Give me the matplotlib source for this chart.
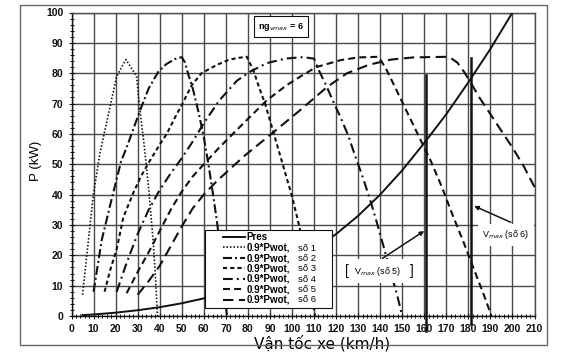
import matplotlib
matplotlib.use("Agg")
import matplotlib.pyplot as plt
from matplotlib.patches import Rectangle
from matplotlib.ticker import MultipleLocator

plt.rcParams["font.family"] = ["Liberation Sans", "DejaVu Sans"]
plt.rcParams["lines.scale_dashes"] = False

# Pres (luc can) - kW theo km/h
v_res = [5, 10, 20, 30, 40, 50, 60, 70, 80, 90, 100, 110, 120, 130, 140, 150, 160, 170, 180, 190, 200]
p_res = [0.3, 0.5, 1.1, 1.9, 2.9, 4.2, 5.8, 7.8, 10.3, 13.4, 17.2, 21.8, 27, 33, 40, 48, 57, 66.5, 77, 88, 100]

# 0.9*Pwot cho tung so
v1 = [5, 10, 13, 16, 20.5, 24.7, 29.5, 31, 33, 35, 37, 38, 39]
p1 = [7, 40.5, 54, 64, 79, 84.5, 79, 68, 56, 42, 25, 14, 0]

v2 = [10, 13.7, 18.2, 22.5, 25, 28, 31, 35, 39.4, 43, 47, 50, 51.5, 53, 55, 57.5, 60, 62, 64, 66, 68, 70.5]
p2 = [8, 25, 38.5, 51, 55.5, 61.5, 67.5, 75, 80.5, 83, 84.7, 85.3, 83.5, 79.5, 75, 67.5, 59, 50.5, 41, 31, 19, 0]

v3 = [15, 17.5, 20.5, 23.5, 28, 31.5, 35, 40, 43.2, 47, 50, 54.5, 59, 65.8, 71, 75, 79.5,
      82.5, 85, 88, 91, 94, 97, 100, 103, 106, 110.5]
p3 = [8, 15, 22, 32.5, 40.5, 46, 50.5, 56.5, 60, 65.5, 69.5, 76, 80, 82.7, 84.3, 85, 85.4,
      81, 75.5, 69.5, 62, 54.5, 47, 39.5, 30.5, 21, 0]

v4 = [20.5, 25, 30, 35, 40, 45, 50, 55, 60, 67, 75, 81, 88.5, 97, 105, 110,
      112.5, 115.5, 118.5, 122, 125.5, 129, 132, 136, 139, 141.5, 144.5, 147.5, 150]
p4 = [8, 17.5, 27, 35, 41.5, 47, 52, 57.5, 63.5, 71, 77.5, 80.5, 83.3, 84.8, 85.3, 84.8,
      80.5, 76, 71, 65.5, 59.5, 52, 46, 37, 29.5, 23, 15, 7.5, 0]

v5 = [25, 30, 35, 40, 45, 50, 55, 60, 67, 78, 88.5, 97.5, 104, 111, 122, 130, 139,
      140.5, 143, 148, 153, 158, 163, 168, 173, 178, 183, 187, 190.5]
p5 = [7.5, 14.5, 21, 28, 35, 41, 46, 50, 55.5, 63.5, 71, 76, 79, 82, 84.3, 85.2, 85.4,
      84, 81, 73.5, 66, 58.5, 51, 42.5, 33, 24, 14.5, 7, 0]

v6 = [30, 35, 40, 45, 50, 55, 60, 66, 78, 91.5, 104, 116, 125, 135, 145, 155, 170,
      172, 175, 178, 181, 185, 190, 195, 200, 205, 210]
p6 = [7, 11.5, 16.5, 23, 29.5, 35.5, 40, 44.5, 52.5, 60.5, 68, 75.5, 80, 82.8, 84.5, 85.2, 85.4,
      85, 83.5, 80.5, 77, 72, 66.5, 61, 55.5, 49.5, 42.5]

gears = ["số 1", "số 2", "số 3", "số 4", "số 5", "số 6"]
v_max5 = 161
v_max6 = 181

fig = plt.figure(figsize=(5.64, 3.56), dpi=100, facecolor="white")
ax = fig.add_axes([71.5 / 564, 40 / 356, 463 / 564, 303.5 / 356])

# khung ngoai cua bieu do
fig.patches.append(Rectangle((20 / 564, 11 / 356), 527 / 564, 340 / 356, transform=fig.transFigure,
                             fill=False, edgecolor="#666666", linewidth=1.0))

ink = "#111111"
ax.plot(v_res, p_res, color=ink, lw=1.4, ls="-", label="Pres", zorder=3)
ax.plot(v1, p1, color=ink, lw=1.2, ls=(0, (1.1, 1.4)), label="0.9*Pwot,", zorder=3)
ax.plot(v2, p2, color=ink, lw=1.5, ls=(0, (6.5, 2.2, 1.4, 2.2)), label="0.9*Pwot,", zorder=3)
ax.plot(v3, p3, color=ink, lw=1.5, ls=(0, (3, 2.2)), label="0.9*Pwot,", zorder=3)
ax.plot(v4, p4, color=ink, lw=1.5, ls=(0, (7, 3, 1.4, 3)), label="0.9*Pwot,", zorder=3)
ax.plot(v5, p5, color=ink, lw=1.5, ls=(0, (5, 3)), label="0.9*Pwot,", zorder=3)
ax.plot(v6, p6, color=ink, lw=1.5, ls=(0, (7.5, 4)), label="0.9*Pwot,", zorder=3)

ax.plot([v_max5, v_max5], [-5, 79.5], color=ink, lw=1.8, clip_on=False, zorder=4)
ax.plot([v_max6, v_max6], [-2.5, 85], color=ink, lw=1.8, clip_on=False, zorder=4)

ax.set_xlim(0, 210)
ax.set_ylim(0, 100)
ax.xaxis.set_major_locator(MultipleLocator(10))
ax.xaxis.set_minor_locator(MultipleLocator(2))
ax.yaxis.set_major_locator(MultipleLocator(10))
ax.yaxis.set_minor_locator(MultipleLocator(2))
ax.grid(True, which="major", color="#4a4a4a", lw=1.0)
ax.set_axisbelow(True)
for s in ax.spines.values():
    s.set_color("#4a4a4a")
    s.set_linewidth(1.0)
ax.spines["bottom"].set_color(ink)
ax.spines["left"].set_color(ink)
ax.tick_params(which="major", direction="inout", length=4, width=0.8, pad=4,
               labelsize=7.5, colors=ink)
ax.tick_params(which="minor", direction="inout", length=3, width=0.7, colors=ink)
for t in ax.get_xticklabels() + ax.get_yticklabels():
    t.set_fontweight("bold")

ax.set_ylabel("P (kW)", fontsize=9.5, va="center")
ax.yaxis.set_label_coords(-0.077, 0.51)
ax.set_xlabel("Vận tốc xe (km/h)", fontsize=11, family="DejaVu Sans", va="center",
              bbox=dict(facecolor="white", edgecolor="none", pad=2))
ax.xaxis.set_label_coords(0.541, -0.089)

# legend
ax.add_patch(Rectangle((0.288, 0.025), 0.274, 0.258, transform=ax.transAxes,
                       facecolor="white", edgecolor=ink, lw=0.8, zorder=5))
leg = ax.legend(loc="upper left", bbox_to_anchor=(0.322, 0.283), frameon=False,
                prop=dict(size=7, weight="bold"), handlelength=2.3, handletextpad=0.2,
                labelspacing=0.05, borderaxespad=0, borderpad=0.2)
leg.set_zorder(6)
for i, g in enumerate(gears):
    ax.text(0.489, 0.223 - i * 0.034, g, transform=ax.transAxes, fontsize=6.8,
            va="center", ha="left", zorder=7)

# chu thich
ax.text(95, 95.3, "ng$_{vmax}$ = 6", fontsize=6.5, fontweight="bold", ha="center", va="center",
        bbox=dict(boxstyle="square,pad=0.5", facecolor="white", edgecolor=ink, lw=0.8), zorder=6)

ax.annotate("", xy=(v_max5, 28.5), xytext=(140, 18.5),
            arrowprops=dict(arrowstyle="-|>", color=ink, lw=1.1, mutation_scale=6), zorder=6)
ax.text(139, 14.8, "V$_{max}$ (số 5)", fontsize=6.5, ha="center", va="center", zorder=6,
        bbox=dict(facecolor="white", edgecolor="none", pad=4))
ax.text(125, 14.8, "[", fontsize=10, ha="center", va="center", zorder=7, fontweight="light")
ax.text(154.3, 14.8, "]", fontsize=10, ha="center", va="center", zorder=7, fontweight="light")

ax.annotate("", xy=(v_max6 + 0.5, 36.6), xytext=(200.4, 30.5),
            arrowprops=dict(arrowstyle="-|>", color=ink, lw=1.1, mutation_scale=6), zorder=6)
ax.text(197, 26.7, "V$_{max}$ (số 6)", fontsize=6.5, ha="center", va="center", zorder=6,
        bbox=dict(facecolor="white", edgecolor="none", pad=3))

fig.savefig("out.png", dpi=100, facecolor="white")
